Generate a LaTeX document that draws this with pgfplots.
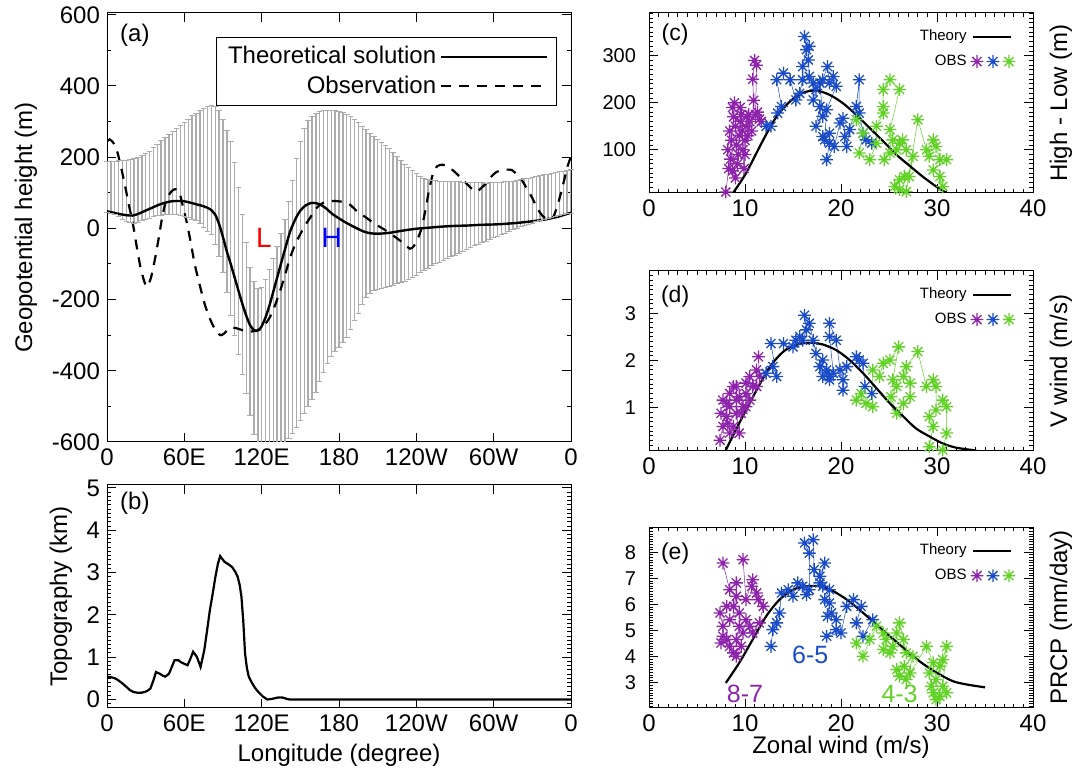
\documentclass[border=0pt]{standalone}
\usepackage{fontspec}
\setmainfont{Liberation Sans}
\usepackage{pgfplots}
\usepackage{pgfplotstable}
\pgfplotsset{compat=1.18}

\definecolor{obspurple}{RGB}{140,35,170}
\definecolor{obsblue}{RGB}{25,75,200}
\definecolor{obsgreen}{RGB}{95,210,35}
\definecolor{bargray}{RGB}{172,172,172}

% eight-armed asterisk, as IDL draws it
\pgfdeclareplotmark{star8}{%
  \pgfpathmoveto{\pgfqpoint{0pt}{\pgfplotmarksize}}\pgfpathlineto{\pgfqpoint{0pt}{-\pgfplotmarksize}}%
  \pgfpathmoveto{\pgfqpoint{\pgfplotmarksize}{0pt}}\pgfpathlineto{\pgfqpoint{-\pgfplotmarksize}{0pt}}%
  \pgfpathmoveto{\pgfqpoint{0.707\pgfplotmarksize}{0.707\pgfplotmarksize}}%
  \pgfpathlineto{\pgfqpoint{-0.707\pgfplotmarksize}{-0.707\pgfplotmarksize}}%
  \pgfpathmoveto{\pgfqpoint{0.707\pgfplotmarksize}{-0.707\pgfplotmarksize}}%
  \pgfpathlineto{\pgfqpoint{-0.707\pgfplotmarksize}{0.707\pgfplotmarksize}}%
  \pgfusepathqstroke}

% spread of the geopotential height (lower and upper end of each bar)
\pgfplotstableread{
lon lo hi
0 45 188
3 42 189
6 38 189
9 32 190
12 25 190
15 20 191
18 16 193
21 15 195
24 17 199
27 21 204
30 25 210
33 29 217
36 32 226
39 35 236
42 37 246
45 38 256
48 39 264
51 39 272
54 38 281
57 36 290
60 33 298
63 30 307
66 26 316
69 21 323
72 13 330
75 2 336
78 -8 341
81 -18 344
84 -45 343
87 -80 332
90 -125 305
93 -180 275
96 -245 244
99 -300 185
102 -355 115
105 -410 40
108 -465 -40
111 -525 -110
114 -580 -150
117 -630 -170
120 -660 -165
123 -670 -145
126 -670 -115
129 -660 -85
132 -640 -50
135 -625 -15
138 -610 25
141 -590 75
144 -575 135
147 -560 195
150 -540 245
153 -520 280
156 -500 302
159 -480 315
162 -460 322
165 -430 327
168 -405 330
171 -380 332
174 -360 332
177 -345 331
180 -335 329
183 -320 325
186 -307 320
189 -285 313
192 -260 305
195 -240 296
198 -215 287
201 -195 277
204 -182 267
207 -175 258
210 -172 250
213 -170 242
216 -167 234
219 -164 225
222 -160 214
225 -156 202
228 -152 190
231 -148 180
234 -143 172
237 -139 163
240 -132 155
243 -125 147
246 -118 141
249 -112 137
252 -105 135
255 -100 134
258 -95 133
261 -90 133
264 -85 132
267 -80 132
270 -75 131
273 -70 131
276 -64 130
279 -58 130
282 -53 129
285 -48 129
288 -44 128
291 -40 128
294 -36 127
297 -31 128
300 -27 128
303 -22 129
306 -17 130
309 -13 131
312 -8 132
315 -4 133
318 0 135
321 4 137
324 8 139
327 12 141
330 15 143
333 18 145
336 21 148
339 24 150
342 27 152
345 30 155
348 33 157
351 36 159
354 39 161
357 41 163
360 43 165
}\spreadtable

\newcommand{\bigfont}{\fontsize{12}{14}\selectfont}

\pgfplotsset{
  idl/.style={
    scale only axis,
    axis line style={line width=0.5pt},
    tick align=inside,
    major tick length=4.5pt,
    minor tick length=2.2pt,
    every tick/.style={black, line width=0.5pt},
    xticklabel style={font=\bigfont},
    yticklabel style={font=\bigfont},
    /pgf/number format/assume math mode=true,
  },
  rightpanel/.style={
    idl, anchor=south west, width=192pt,
    xmin=0, xmax=40, xtick={0,10,...,40}, minor xtick={1,...,39},
    yticklabel style={font=\fontsize{10}{12}\selectfont, xshift=-3pt},
    every axis y label/.style={at={(rel axis cs:1,0.5)}, xshift=14pt, rotate=90, anchor=center, font=\bigfont},
    legend style={draw=none, fill=none, at={(rel axis cs:0.955,0.93)}, anchor=north east,
      font=\fontsize{7.5}{9}\selectfont, inner sep=0pt, row sep=1.5pt, cells={anchor=east}},
    legend cell align=right, legend plot pos=right,
    legend image code/.code={\draw[##1, line width=1pt] (0pt,0pt) -- (19pt,0pt);},
  },
  obs/.style={color=#1, line width=0.25pt, mark=star8, mark size=3.2pt,
    mark options={line width=0.65pt, solid}},
  capmark/.style={forget plot, bargray, only marks, mark=-, mark size=1.4pt,
    mark options={line width=0.5pt}},
}

\newcommand{\obslegend}{%
  \addlegendimage{legend image code/.code={
    \draw[obspurple, line width=0.65pt] plot[mark=star8, mark size=3.2pt] coordinates {(2pt,0pt)};
    \draw[obsblue, line width=0.65pt] plot[mark=star8, mark size=3.2pt] coordinates {(10pt,0pt)};
    \draw[obsgreen, line width=0.65pt] plot[mark=star8, mark size=3.2pt] coordinates {(18pt,0pt)};}}
  \addlegendentry{OBS}}

\begin{document}
\begin{tikzpicture}[font=\bigfont]
\path[use as bounding box] (0pt,0pt) rectangle (543pt,384.5pt);

% ---------------- (a)
\begin{axis}[idl, at={(53.5pt,163.5pt)}, anchor=south west,
  width=232pt, height=214.5pt,
  xmin=0, xmax=360, ymin=-600, ymax=605,
  xtick={0,60,...,360}, xticklabels={0,60E,120E,180,120W,60W,0},
  ytick={-600,-400,...,600}, minor ytick={-500,-300,...,500},
  ylabel={Geopotential height (m)},
  every axis y label/.style={at={(rel axis cs:0,0.5)}, xshift=-40.5pt, rotate=90, anchor=center, font=\bigfont},
  legend style={at={(rel axis cs:0.970,0.944)}, anchor=north east,
    font=\bigfont, draw=black, line width=0.5pt,
    inner xsep=4pt, inner ysep=2.5pt, row sep=0.5pt, cells={anchor=east}},
  legend cell align=right, legend plot pos=right,
  legend image code/.code={\draw[#1] (0pt,0pt) -- (45pt,0pt); \path (0pt,0pt) -- (53pt,0pt);},
]
\addplot[forget plot, draw=none, mark=none,
  error bars/.cd, y dir=both, y explicit, error mark=none,
  error bar style={draw=bargray, line width=0.7pt}]
  table[x=lon, y expr={(\thisrow{lo}+\thisrow{hi})/2}, y error expr={(\thisrow{hi}-\thisrow{lo})/2}] {\spreadtable};
\addplot[capmark] table[x=lon, y=hi] {\spreadtable};
\addplot[capmark] table[x=lon, y=lo] {\spreadtable};
\addplot[black, line width=1.2pt, smooth, tension=0.4] coordinates {
(0,48) (5,44) (10,40) (15,37) (20,36) (25,42) (30,50) (35,58) (40,66) (45,72)
(50,76) (55,77) (60,76) (65,72) (70,67) (75,62) (80,54) (84,38) (87,12) (90,-25)
(93,-65) (96,-100) (100,-150) (104,-200) (108,-245) (111,-272) (114,-286) (116,-288)
(118,-284) (120,-275) (123,-250) (126,-217) (130,-165) (134,-112) (138,-60) (142,-10)
(146,25) (150,50) (154,64) (158,71) (162,71) (166,66) (170,56) (175,40) (180,28)
(185,17) (190,7) (195,-2) (200,-10) (205,-14) (210,-15) (215,-14) (220,-12) (230,-6)
(240,-1) (250,2) (260,5) (270,7) (280,8) (290,10) (300,11) (310,13) (320,16) (330,20)
(340,25) (350,33) (360,44)};
\addlegendentry{Theoretical solution}
\addplot[black, line width=1.1pt, dash pattern=on 5pt off 4pt, smooth, tension=0.4] coordinates {
(0,244) (2,250) (5,240) (8,215) (11,170) (14,120) (17,65) (20,15) (23,-50) (26,-110)
(29,-150) (31,-164) (34,-140) (37,-90) (40,-30) (43,35) (46,80) (50,104) (53,110)
(56,104) (59,60) (62,15) (65,-40) (68,-100) (72,-160) (76,-215) (80,-255) (84,-285)
(88,-300) (91,-295) (95,-280) (100,-280) (105,-286) (110,-290) (115,-288) (119,-283)
(123,-268) (127,-245) (131,-210) (135,-168) (139,-120) (142,-83) (146,-45) (150,-16)
(154,10) (158,32) (162,55) (166,68) (170,75) (176,77) (182,75) (188,68) (194,48)
(200,33) (205,20) (210,8) (215,-3) (220,-15) (225,-28) (230,-42) (235,-57) (238,-50)
(241,-30) (244,0) (247,50) (250,110) (253,155) (256,174) (260,179) (265,172) (270,158)
(275,140) (280,122) (284,108) (287,104) (290,112) (294,126) (298,145) (302,158)
(306,163) (310,165) (314,164) (318,152) (322,135) (326,110) (330,85) (334,55) (338,35)
(342,25) (346,30) (350,70) (354,125) (357,170) (360,203)};
\addlegendentry{Observation}
\node[font=\bigfont] at (rel axis cs:0.060,0.949) {(a)};
\node[font=\fontsize{14}{16}\selectfont, text=red] at (axis cs:121.7,-28) {L};
\node[font=\fontsize{14}{16}\selectfont, text=blue] at (axis cs:174.4,-28) {H};
\end{axis}

% ---------------- (b)
\begin{axis}[idl, at={(53.5pt,30.5pt)}, anchor=south west,
  width=232pt, height=111.5pt,
  xmin=0, xmax=360, ymin=-0.2, ymax=5.07,
  xtick={0,60,...,360}, xticklabels={0,60E,120E,180,120W,60W,0},
  ytick={0,...,5}, minor ytick={-0.1,0.1,0.2,...,5.0},
  xlabel={Longitude (degree)}, ylabel={Topography (km)},
  every axis y label/.style={at={(rel axis cs:0,0.5)}, xshift=-23pt, rotate=90, anchor=center, font=\bigfont},
  every axis x label/.style={at={(rel axis cs:0.5,0)}, yshift=-23.5pt, anchor=center, font=\bigfont},
]
\addplot[black, line width=1.1pt] coordinates {
(0,0.54) (3,0.53) (6.3,0.50) (9,0.45) (12,0.38) (15,0.30) (17.9,0.22) (20.5,0.18)
(23.6,0.16) (26.5,0.16) (29.4,0.18) (31.5,0.21) (33.7,0.26) (36,0.45) (38,0.65)
(40.9,0.61) (43,0.57) (45.2,0.54) (48.1,0.61) (50,0.75) (52.4,0.93) (55.3,0.93)
(57.5,0.88) (59.6,0.85) (62.5,0.81) (64.5,0.95) (66.8,1.13) (69.7,1.01) (72.6,0.77)
(75.5,1.17) (77.5,1.6) (79.8,2.11) (82,2.5) (84.1,2.90) (86,3.2) (87.8,3.39)
(89.5,3.32) (91.3,3.25) (94,3.2) (97.1,3.13) (99.5,3.02) (101.4,2.90) (103,2.7)
(104.3,2.43) (105.7,1.87) (107.1,1.09) (108.5,0.75) (110,0.54) (112,0.42) (114.3,0.30)
(116.5,0.21) (118.7,0.14) (121,0.07) (124.4,0.0) (127,0.01) (130.2,0.03) (133,0.05)
(135.9,0.05) (139,0.02) (141.7,0.0) (180,0) (240,0) (300,0) (360,0)};
\node[font=\bigfont] at (rel axis cs:0.060,0.919) {(b)};
\end{axis}

% ---------------- (c)
\begin{axis}[rightpanel, at={(324.5pt,288pt)}, height=90pt,
  ymin=8, ymax=391, ytick={100,200,300}, minor ytick={10,20,...,390},
  ylabel={High - Low (m)},
]
\addplot[obs=obspurple, forget plot] coordinates {
(8.0,10) (8.3,60) (8.5,80) (8.2,100) (8.4,140) (8.7,55) (9.0,40) (8.6,120) (8.8,170)
(8.7,190) (8.9,200) (9.0,150) (9.1,110) (9.2,70) (9.3,90) (9.4,130) (9.5,160) (9.5,190)
(9.6,175) (9.7,140) (9.8,100) (9.9,60) (10.0,90) (10.0,120) (10.1,150) (10.2,170)
(10.3,130) (10.4,175) (10.5,160) (10.7,140) (10.9,205) (10.8,250) (11.0,290) (11.2,280)
(11.1,175) (11.3,180) (11.5,165) (11.7,160)};
\addplot[obs=obsblue, forget plot] coordinates {
(12.2,150) (12.7,150) (13.4,178) (13.8,192) (13.3,249) (14.0,263) (14.7,249) (15.3,206)
(15.7,220) (16.0,249) (16.0,277) (16.4,313) (16.2,341) (16.7,320) (16.6,291) (16.7,256)
(17.1,242) (17.4,228) (17.1,206) (17.8,192) (17.4,150) (18.1,171) (17.8,242) (18.1,249)
(18.6,277) (18.8,242) (19.2,256) (19.5,235) (18.5,185) (18.3,121) (18.1,128) (18.8,135)
(18.8,114) (18.5,79) (19.3,107) (19.9,157) (20.2,167) (20.4,128) (20.6,107) (20.9,143)
(21.6,192) (21.9,249) (21.9,178) (22.3,135) (22.6,121) (23.2,114)};
\addplot[obs=obsgreen, forget plot] coordinates {
(21.6,164) (22.3,135) (21.9,93) (23.0,79) (23.7,114) (23.7,150) (24.4,178) (24.4,192)
(24.4,228) (25.1,249) (26.1,228) (25.1,143) (25.4,121) (24.5,79) (25.1,93) (25.8,100)
(26.1,114) (26.4,121) (26.8,100) (27.5,86) (27.1,43) (26.6,43) (26.1,36) (25.6,22)
(26.1,15) (26.8,11) (28.0,164) (28.9,100) (29.2,86) (29.6,121) (29.9,107) (30.3,79)
(31.0,79) (29.6,57) (30.3,43) (30.6,22)};
\addplot[black, line width=1.1pt, smooth] coordinates {
(8.75,8) (10.1,50) (11.9,121) (13.3,171) (14.7,203) (16.0,221) (17.4,226) (18.8,217)
(20.2,199) (21.6,174) (23.0,146) (24.4,118) (25.8,89) (27.2,65) (28.5,43) (29.9,22) (31,8)};
\addlegendentry{Theory}
\obslegend
\node[font=\fontsize{11.5}{13}\selectfont] at (rel axis cs:0.068,0.878) {(c)};
\end{axis}

% ---------------- (d)
\begin{axis}[rightpanel, at={(324.5pt,159pt)}, height=90pt,
  ymin=0.08, ymax=3.9, ytick={1,2,3}, minor ytick={0.1,0.2,...,3.8},
  ylabel={V wind (m/s)},
]
\addplot[obs=obspurple, forget plot] coordinates {
(7.4,0.31) (7.7,0.60) (8.2,0.67) (8.4,0.46) (8.8,0.60) (9.4,0.46) (9.1,0.88) (9.6,0.88)
(8.1,0.81) (7.5,0.88) (8.4,1.02) (8.1,1.09) (7.7,1.16) (8.4,1.30) (8.8,1.45) (9.1,1.45)
(9.1,1.16) (9.4,1.23) (9.8,1.02) (10.1,1.02) (10.1,1.30) (10.5,1.16) (10.1,1.52)
(10.8,1.45) (11.2,1.45) (10.5,1.66) (11.2,1.80) (11.5,1.66) (11.4,2.08)};
\addplot[obs=obsblue, forget plot] coordinates {
(12.2,1.73) (12.9,1.87) (13.3,1.66) (12.7,2.36) (14.0,2.36) (15.0,2.29) (15.3,2.43)
(15.7,2.51) (16.0,2.43) (16.4,2.65) (16.2,2.96) (16.7,2.79) (17.1,2.43) (17.4,2.15)
(18.1,2.01) (17.8,1.87) (18.1,1.66) (18.5,1.80) (18.8,1.66) (18.8,1.59) (19.2,1.73)
(18.8,2.51) (18.8,2.79) (19.5,2.43) (19.9,1.80) (20.2,1.59) (20.2,1.37) (20.6,1.87)
(21.6,2.08) (21.9,2.01) (22.3,1.94) (22.5,1.45) (23.2,1.30)};
\addplot[obs=obsgreen, forget plot] coordinates {
(21.6,1.16) (22.1,1.30) (22.6,1.09) (23.3,1.02) (23.3,1.80) (24.0,1.66) (24.4,1.94)
(25.1,2.01) (26.0,2.29) (25.4,1.59) (25.8,1.45) (25.2,1.23) (25.8,0.88) (26.5,1.09)
(27.2,1.23) (27.2,1.52) (26.5,1.66) (26.8,1.87) (28.0,2.19) (28.9,1.45) (29.6,1.59)
(29.9,1.45) (29.9,0.95) (29.2,0.81) (29.6,0.60) (29.2,0.17) (30.6,0.10) (31.0,0.46)
(31.0,1.02) (30.6,1.16)};
\addplot[black, line width=1.1pt, smooth] coordinates {
(8.0,0.10) (9.4,0.67) (11.2,1.37) (12.6,1.87) (14.0,2.19) (15.3,2.33) (16.7,2.38)
(18.1,2.34) (19.5,2.22) (20.9,2.01) (22.3,1.73) (23.7,1.41) (25.1,1.09) (26.5,0.81)
(27.8,0.56) (29.2,0.39) (30.6,0.24) (32.0,0.15) (34.1,0.09)};
\addlegendentry{Theory}
\obslegend
\node[font=\fontsize{11.5}{13}\selectfont] at (rel axis cs:0.068,0.856) {(d)};
\end{axis}

% ---------------- (e)
\begin{axis}[rightpanel, at={(324.5pt,30.5pt)}, height=90.5pt,
  ymin=2.04, ymax=8.97, ytick={3,...,8}, minor ytick={2.1,2.2,...,8.9},
  ylabel={PRCP (mm/day)}, xlabel={Zonal wind (m/s)},
  every axis x label/.style={at={(rel axis cs:0.5,0)}, yshift=-19.5pt, anchor=center, font=\bigfont},
]
\addplot[obs=obspurple, forget plot] coordinates {
(7.7,7.59) (8.4,6.57) (9.1,6.83) (9.1,6.32) (8.8,5.93) (8.1,5.93) (7.4,5.68) (7.7,5.17)
(7.7,4.79) (7.5,4.53) (8.1,4.66) (8.4,4.40) (8.8,4.15) (9.1,4.02) (9.6,4.40) (9.1,4.66)
(9.4,5.17) (8.4,5.42) (9.4,5.68) (9.8,4.91) (10.1,5.42) (10.5,5.17) (10.8,4.91) (11.5,5.30)
(11.9,5.93) (11.4,6.19) (11.2,6.44) (10.7,6.70) (10.8,6.95) (10.1,6.19) (9.8,7.72)};
\addplot[obs=obsblue, forget plot] coordinates {
(12.7,4.40) (12.9,5.04) (13.3,5.30) (13.6,5.68) (13.8,6.44) (14.5,6.57) (15.0,6.32)
(15.5,6.83) (16.0,6.70) (16.4,6.38) (16.7,6.57) (16.7,7.97) (16.2,8.36) (17.1,8.48)
(17.2,7.34) (17.8,7.08) (18.3,7.59) (17.8,6.83) (18.1,6.70) (18.8,6.57) (18.3,6.19)
(18.8,6.06) (18.6,5.55) (19.0,5.68) (19.5,5.42) (19.5,5.04) (18.5,4.79) (20.0,4.91)
(20.6,5.93) (21.3,6.19) (22.1,5.93) (21.6,5.30) (22.3,4.79) (23.3,5.42)};
\addplot[obs=obsgreen, forget plot] coordinates {
(21.6,4.53) (22.3,4.02) (23.0,4.66) (23.7,5.17) (24.4,4.91) (24.7,4.66) (24.4,4.28)
(25.1,4.15) (25.4,4.40) (25.8,4.91) (26.1,5.30) (26.5,4.66) (26.8,4.15) (27.5,4.02)
(26.8,3.13) (26.1,3.26) (25.8,3.51) (26.6,3.64) (27.2,3.38) (28.9,4.40) (29.6,3.77)
(29.2,3.38) (29.4,2.87) (29.6,2.62) (29.9,2.36) (30.3,2.49) (29.9,3.13) (30.3,3.64)
(30.6,3.89) (31.0,4.40) (30.6,2.87) (31.0,2.62)};
\addplot[black, line width=1.1pt, smooth] coordinates {
(8.0,3.0) (9.4,3.77) (10.8,4.66) (12.2,5.55) (13.6,6.19) (15.0,6.57) (16.4,6.70)
(17.8,6.70) (19.2,6.51) (20.6,6.19) (21.9,5.81) (23.3,5.36) (24.7,4.91) (26.1,4.47)
(27.5,4.02) (28.9,3.64) (30.3,3.32) (31.7,3.06) (33.1,2.94) (35.0,2.83)};
\addlegendentry{Theory}
\obslegend
\node[font=\fontsize{11.5}{13}\selectfont] at (rel axis cs:0.068,0.856) {(e)};
\node[font=\fontsize{12.5}{14}\selectfont, text=obspurple] at (axis cs:10.0,2.58) {8-7};
\node[font=\fontsize{12.5}{14}\selectfont, text=obsblue] at (axis cs:16.8,4.07) {6-5};
\node[font=\fontsize{12.5}{14}\selectfont, text=obsgreen] at (axis cs:26.1,2.58) {4-3};
\end{axis}
\end{tikzpicture}
\end{document}
